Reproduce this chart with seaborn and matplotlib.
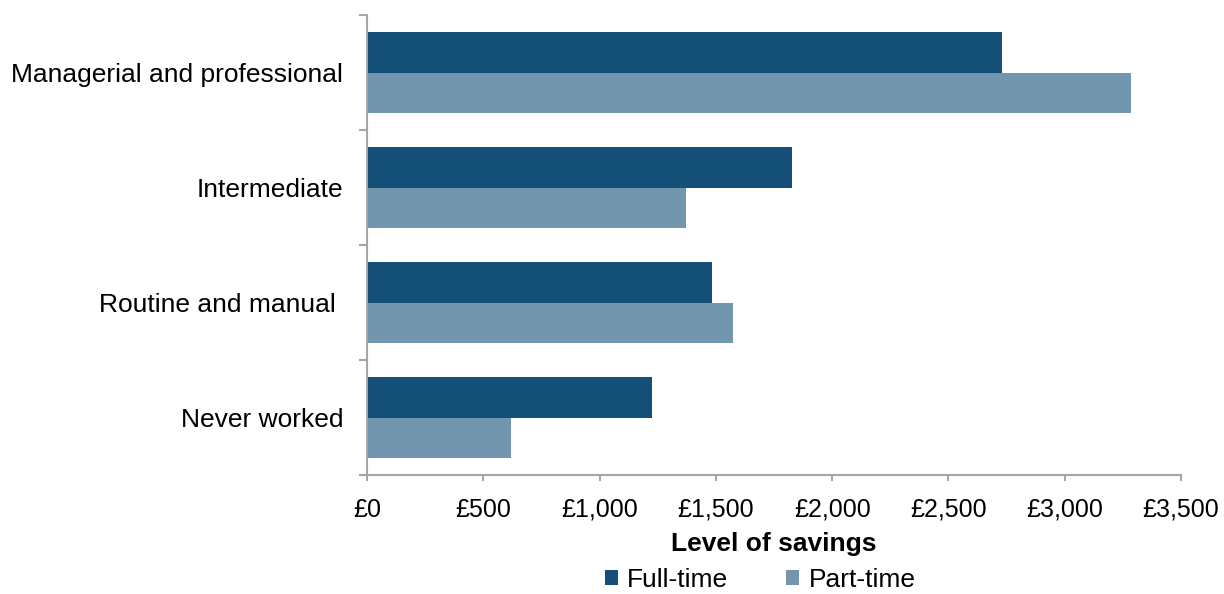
import pandas as pd
import seaborn as sns
import matplotlib.pyplot as plt
from matplotlib.ticker import FuncFormatter, FixedLocator

# values
categories = ['Managerial and professional', 'Intermediate', 'Routine and manual ', 'Never worked']
full_time = [2730, 1827, 1483, 1225]
part_time = [3285, 1371, 1574, 619]
series = ['Full-time', 'Part-time']
colors = ['#134F76', '#7296AE']

df = pd.DataFrame({
    'category': categories * 2,
    'savings': full_time + part_time,
    'type': [series[0]] * len(categories) + [series[1]] * len(categories),
})

sns.set_style('white')
plt.rcParams['font.family'] = ['Liberation Sans', 'DejaVu Sans']
plt.rcParams['text.color'] = 'black'
plt.rcParams['xtick.labelcolor'] = 'black'
plt.rcParams['ytick.labelcolor'] = 'black'
plt.rcParams['axes.labelcolor'] = 'black'

fig = plt.figure(figsize=(12.24, 5.94), dpi=100)
ax = fig.add_axes([0.2998, 0.2003, 0.6651, 0.7744])

sns.barplot(data=df, x='savings', y='category', hue='type', order=categories,
            hue_order=series, palette=colors, orient='h', width=0.71,
            saturation=1, ax=ax, edgecolor='none')

ax.set_xlim(0, 3500)
ax.set_ylim(3.5, -0.5)
ax.set_xticks(range(0, 3501, 500))
ax.xaxis.set_major_formatter(FuncFormatter(lambda v, p: f'£{int(v):,}'))
ax.yaxis.set_minor_locator(FixedLocator([-0.5, 0.5, 1.5, 2.5, 3.5]))

for side in ['top', 'right']:
    ax.spines[side].set_visible(False)
for side in ['left', 'bottom']:
    ax.spines[side].set_color('#A6A6A6')
    ax.spines[side].set_linewidth(1.5)

ax.tick_params(axis='x', which='major', direction='out', length=4.5, width=1.5,
               color='#A6A6A6', labelsize=18, pad=12, bottom=True)
ax.tick_params(axis='y', which='major', length=0, labelsize=19, pad=17)
ax.tick_params(axis='y', which='minor', direction='out', length=6, width=1.5,
               color='#A6A6A6', left=True)

ax.set_xlabel('Level of savings', fontsize=19, fontweight='bold', labelpad=7)
ax.set_ylabel('')

handles, labels = ax.get_legend_handles_labels()
ax.get_legend().remove()
fig.legend(handles, labels, loc='lower center', bbox_to_anchor=(0.621, 0.003), ncol=2,
           frameon=False, fontsize=19, handlelength=0.5, handleheight=0.5,
           handletextpad=0.35, columnspacing=2.2, borderaxespad=0, borderpad=0)

fig.savefig('out.png', dpi=100)
